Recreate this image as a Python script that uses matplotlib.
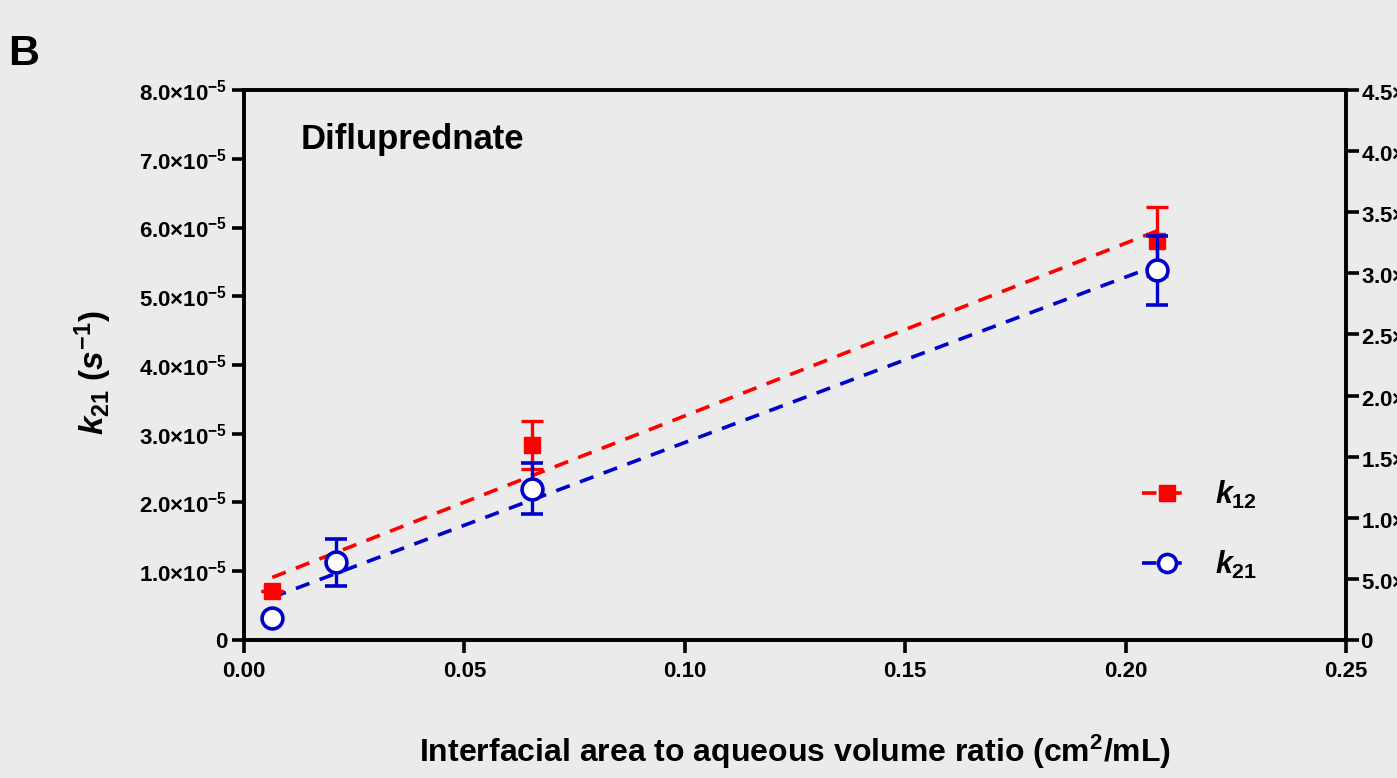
import matplotlib
matplotlib.use('Agg')
import matplotlib.pyplot as plt

# k12 and k21 vs interfacial area / aqueous volume ratio
x_red = [0.0064, 0.0653, 0.2071]
k12 = [0.71e-5, 2.84e-5, 5.80e-5]
k12_err = [0.0, 0.35e-5, 0.50e-5]

x_blue = [0.0064, 0.0209, 0.0653, 0.2071]
k21 = [0.32e-5, 1.13e-5, 2.20e-5, 5.38e-5]
k21_err = [0.0, 0.34e-5, 0.37e-5, 0.50e-5]

# fitted lines (end points)
fit_x = [0.0064, 0.2071]
k12_fit = [0.91e-5, 5.95e-5]
k21_fit = [0.62e-5, 5.45e-5]

x_ticks = [0.0, 0.05, 0.10, 0.15, 0.20, 0.25]
x_ticklabels = ['0.00', '0.05', '0.10', '0.15', '0.20', '0.25']
left_ticks = [0, 1e-5, 2e-5, 3e-5, 4e-5, 5e-5, 6e-5, 7e-5, 8e-5]
left_ticklabels = ['0'] + ['%.1f×10$^{-5}$' % v for v in range(1, 9)]
right_ticks = [0, 0.5e-5, 1e-5, 1.5e-5, 2e-5, 2.5e-5, 3e-5, 3.5e-5, 4e-5, 4.5e-5]
right_ticklabels = ['0', '5.0×10$^{-6}$'] + \
    ['%.1f×10$^{-5}$' % v for v in [1, 1.5, 2, 2.5, 3, 3.5, 4, 4.5]]

bg = '#ebebeb'
plt.rcParams['font.family'] = 'Liberation Sans'
plt.rcParams['font.weight'] = 'bold'
plt.rcParams['mathtext.fontset'] = 'custom'
plt.rcParams['mathtext.rm'] = 'Liberation Sans:bold'
plt.rcParams['mathtext.it'] = 'Liberation Sans:italic:bold'
plt.rcParams['mathtext.bf'] = 'Liberation Sans:bold'

fig = plt.figure(figsize=(13.97, 7.78), dpi=100, facecolor=bg)
ax = fig.add_axes([0.1747, 0.1774, 0.7888, 0.7069], facecolor=bg)

ax.plot(fit_x, k12_fit, color='#ff0000', lw=2.6, ls=(0, (4, 3)), zorder=2)
ax.plot(fit_x, k21_fit, color='#0000cc', lw=2.6, ls=(0, (4, 3)), zorder=2)

ax.errorbar(x_red, k12, yerr=k12_err, fmt='s', color='#ff0000', ms=12,
            capsize=8, elinewidth=2.4, capthick=2.4, zorder=3)
ax.errorbar(x_blue, k21, yerr=k21_err, fmt='o', color='#0000cc', ms=15,
            mfc='white', mew=2.6, capsize=8, elinewidth=2.4, capthick=2.4, zorder=4)

ax.set_xlim(0, 0.25)
ax.set_ylim(0, 8e-5)
ax.set_xticks(x_ticks)
ax.set_xticklabels(x_ticklabels)
ax.set_yticks(left_ticks)
ax.set_yticklabels(left_ticklabels)
ax.tick_params(direction='out', length=9, width=2.6, labelsize=16)
ax.tick_params(axis='x', pad=6)
ax.tick_params(axis='y', pad=3)

for s in ax.spines.values():
    s.set_linewidth(2.6)

ax2 = ax.twinx()
ax2.set_ylim(0, 4.5e-5)
ax2.set_yticks(right_ticks)
ax2.set_yticklabels(right_ticklabels)
ax2.tick_params(direction='out', length=9, width=2.6, labelsize=16, pad=1.5)
for s in ax2.spines.values():
    s.set_linewidth(2.6)

ax.set_xlabel(r'Interfacial area to aqueous volume ratio (cm$^2$/mL)',
              fontsize=23, fontweight='bold')
ax.xaxis.set_label_coords(0.5, -0.168)
ax.set_ylabel(r'$k_{21}$ $(s^{-1})$', fontsize=24)
ax.yaxis.set_label_coords(-0.118, 0.487)

ax.text(0.051, 0.91, 'Difluprednate', transform=ax.transAxes,
        fontsize=25, fontweight='bold', va='center')
fig.text(0.006, 0.93, 'B', fontsize=31, fontweight='bold', va='center')

# legend
h1, = ax.plot([], [], color='#ff0000', lw=2.6, ls=(0, (4, 3)), marker='s', ms=12)
h2, = ax.plot([], [], color='#0000cc', lw=2.6, ls=(0, (4, 3)), marker='o', ms=13,
              mfc='white', mew=2.6)
leg = ax.legend([h1, h2], [r'$k_{12}$', r'$k_{21}$'], loc='upper left',
                bbox_to_anchor=(0.815, 0.293), frameon=False, fontsize=22,
                borderpad=0, borderaxespad=0,
                handlelength=1.6, labelspacing=1.25, handletextpad=0.8)

fig.savefig('out.png', dpi=100, facecolor=bg)
